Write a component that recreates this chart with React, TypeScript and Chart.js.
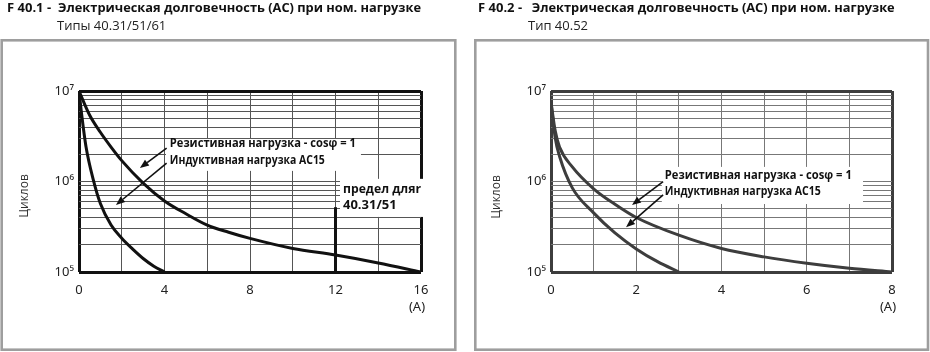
import React, { useEffect, useRef } from "react";
import { Chart, registerables } from "chart.js";

Chart.register(...registerables);

// ---------------- data ----------------
const Y_GRID = [1e5, 2e5, 3e5, 4e5, 5e5, 6e5, 7e5, 8e5, 9e5, 1e6, 2e6, 3e6, 4e6, 5e6, 6e6, 7e6, 8e6, 9e6, 1e7];
const Y_LABEL_VALUES = [1e5, 1e6, 1e7];
const Y_LABEL_TEXT = ["10⁵", "10⁶", "10⁷"];

const L_X_GRID = [0, 2, 4, 6, 8, 10, 12, 14, 16];
const L_X_LABELS = [0, 4, 8, 12, 16];
const R_X_GRID = [0, 1, 2, 3, 4, 5, 6, 7, 8];
const R_X_LABELS = [0, 2, 4, 6, 8];

// F 40.1 – types 40.31/51/61
const L_RES_X = [0, 0.5, 1, 1.5, 2, 3, 4, 5, 6, 7, 8, 10, 12, 14, 16];
const L_RES_Y = [1e7, 5.4e6, 3.5e6, 2.4e6, 1.7e6, 9.6e5, 6.1e5, 4.4e5, 3.3e5, 2.75e5, 2.35e5, 1.82e5, 1.54e5, 1.26e5, 1e5];
const L_IND_X = [0, 0.12, 0.33, 0.67, 1, 1.5, 2, 2.5, 3, 3.5, 4];
const L_IND_Y = [1e7, 5.6e6, 2.4e6, 1.04e6, 5.7e5, 3.3e5, 2.36e5, 1.8e5, 1.41e5, 1.16e5, 1e5];
const L_LIMIT_X = [12, 12];
const L_LIMIT_Y = [1e5, 5.2e5];

// F 40.2 – type 40.52
const R_RES_X = [0, 0.1, 0.2, 0.5, 1, 1.5, 2, 3, 4, 5, 6, 7, 8];
const R_RES_Y = [7.5e6, 3.6e6, 2.4e6, 1.45e6, 8.3e5, 5.6e5, 4e5, 2.55e5, 1.82e5, 1.47e5, 1.25e5, 1.1e5, 1e5];
const R_IND_X = [0, 0.1, 0.2, 0.5, 1, 1.5, 2, 2.5, 3];
const R_IND_Y = [7.5e6, 3e6, 1.9e6, 8.5e5, 4.5e5, 2.7e5, 1.8e5, 1.3e5, 1e5];

// ---------------- texts ----------------
const MAIN_TITLE = "Электрическая долговечность (AC) при ном. нагрузке";
const L_CODE = "F 40.1 -";
const R_CODE = "F 40.2 -";
const L_SUB = "Типы 40.31/51/61";
const R_SUB = "Тип 40.52";
const RES_LABEL = "Резистивная нагрузка - cosφ = 1";
const IND_LABEL = "Индуктивная нагрузка AC15";
const LIMIT_LABEL_1 = "предел дляr";
const LIMIT_LABEL_2 = "40.31/51";
const Y_TITLE = "Циклов";
const X_UNIT = "(A)";

// ---------------- layout ----------------
const W = 465;
const H = 352;
const FONT = "'Open Sans', 'Noto Sans', sans-serif";
const TICK_FONT = "'Noto Sans', 'Open Sans', sans-serif";

type Pt = [number, number];
type PanelCfg = {
  offset: number;
  area: { l: number; r: number; t: number; b: number };
  frame: [number, number, number, number];
  code: string; codeX: number; titleX: number; sub: string; subX: number;
  xMax: number; xGrid: number[]; xLabels: number[];
  lineColor: string; gridColor: string; borderColor: string;
  series: { x: number[]; y: number[]; straight?: boolean }[];
  boxes: { x0: number; x1: number; y0: number; y1: number }[];
  texts: { x: number; y: number; text: string; maxW: number }[];
  arrows: { from: Pt; to: Pt }[];
  yTitleX: number; yTitleY: number;
};

const LEFT: PanelCfg = {
  offset: 0,
  area: { l: 79, r: 421, t: 91, b: 272 },
  frame: [1.7, 40.3, 453.6, 309.4],
  code: L_CODE, codeX: 7, titleX: 58, sub: L_SUB, subX: 57,
  xMax: 16, xGrid: L_X_GRID, xLabels: L_X_LABELS,
  lineColor: "#111111", gridColor: "#555555", borderColor: "#111111",
  series: [
    { x: L_RES_X, y: L_RES_Y },
    { x: L_IND_X, y: L_IND_Y },
    { x: L_LIMIT_X, y: L_LIMIT_Y, straight: true },
  ],
  boxes: [
    { x0: 4.07, x1: 13.19, y0: 2.95e6, y1: 1.31e6 },
    { x0: 12.21, x1: 16.6, y0: 1.07e6, y1: 4.06e5 },
  ],
  texts: [
    { x: 4.25, y: 2.65e6, text: RES_LABEL, maxW: 186 },
    { x: 4.25, y: 1.7e6, text: IND_LABEL, maxW: 155 },
    { x: 12.35, y: 8.26e5, text: LIMIT_LABEL_1, maxW: 78 },
    { x: 12.35, y: 5.41e5, text: LIMIT_LABEL_2, maxW: 62 },
  ],
  arrows: [
    { from: [4.1, 2.34e6], to: [2.85, 1.41e6] },
    { from: [4.1, 1.6e6], to: [1.73, 5.5e5] },
  ],
  yTitleX: 25, yTitleY: 196,
};

const RIGHT: PanelCfg = {
  offset: 465,
  area: { l: 86, r: 427, t: 91, b: 272 },
  frame: [10.3, 40.3, 452.7, 309.4],
  code: R_CODE, codeX: 13, titleX: 66.7, sub: R_SUB, subX: 63,
  xMax: 8, xGrid: R_X_GRID, xLabels: R_X_LABELS,
  lineColor: "#3d3d3d", gridColor: "#777777", borderColor: "#3d3d3d",
  series: [
    { x: R_RES_X, y: R_RES_Y },
    { x: R_IND_X, y: R_IND_Y },
  ],
  boxes: [{ x0: 2.6, x1: 7.32, y0: 1.45e6, y1: 5.64e5 }],
  texts: [
    { x: 2.67, y: 1.18e6, text: RES_LABEL, maxW: 187 },
    { x: 2.67, y: 7.7e5, text: IND_LABEL, maxW: 156 },
  ],
  arrows: [
    { from: [2.63, 9.95e5], to: [1.9, 5.5e5] },
    { from: [2.63, 7.1e5], to: [1.76, 3.12e5] },
  ],
  yTitleX: 32, yTitleY: 197,
};

function drawArrow(ctx: CanvasRenderingContext2D, x0: number, y0: number, x1: number, y1: number) {
  const ang = Math.atan2(y1 - y0, x1 - x0);
  const L = 9;
  const hw = 3.6;
  const bx = x1 - L * Math.cos(ang);
  const by = y1 - L * Math.sin(ang);
  ctx.beginPath();
  ctx.moveTo(x0, y0);
  ctx.lineTo(bx, by);
  ctx.stroke();
  ctx.beginPath();
  ctx.moveTo(x1, y1);
  ctx.lineTo(bx + hw * Math.sin(ang), by - hw * Math.cos(ang));
  ctx.lineTo(bx - hw * Math.sin(ang), by + hw * Math.cos(ang));
  ctx.closePath();
  ctx.fill();
}

function makeOverlay(cfg: PanelCfg) {
  return {
    id: "overlay",
    beforeDraw(chart: any) {
      const ctx: CanvasRenderingContext2D = chart.ctx;
      ctx.save();
      ctx.fillStyle = "#ffffff";
      ctx.fillRect(0, 0, W, H);
      ctx.strokeStyle = "#9e9e9e";
      ctx.lineWidth = 2.6;
      const [fx, fy, fw, fh] = cfg.frame;
      ctx.strokeRect(fx, fy, fw, fh);
      ctx.fillStyle = "#111111";
      ctx.textBaseline = "alphabetic";
      ctx.textAlign = "left";
      ctx.font = `700 13px ${FONT}`;
      ctx.fillText(cfg.code, cfg.codeX, 12, 46);
      ctx.fillText(MAIN_TITLE, cfg.titleX, 12, 363);
      ctx.font = `400 13px ${FONT}`;
      ctx.fillStyle = "#222222";
      ctx.fillText(cfg.sub, cfg.subX, 29.5);
      ctx.restore();
    },
    beforeDatasetsDraw(chart: any) {
      const ctx: CanvasRenderingContext2D = chart.ctx;
      const xs = chart.scales.x;
      const ys = chart.scales.y;
      ctx.save();
      ctx.fillStyle = "#ffffff";
      for (const b of cfg.boxes) {
        const x0 = xs.getPixelForValue(b.x0);
        const x1 = xs.getPixelForValue(b.x1);
        const y0 = ys.getPixelForValue(b.y0);
        const y1 = ys.getPixelForValue(b.y1);
        ctx.fillRect(x0, y0, x1 - x0, y1 - y0);
      }
      ctx.restore();
    },
    afterDatasetsDraw(chart: any) {
      const ctx: CanvasRenderingContext2D = chart.ctx;
      const xs = chart.scales.x;
      const ys = chart.scales.y;
      const area = chart.chartArea;
      ctx.save();
      ctx.fillStyle = "#111111";
      ctx.textAlign = "left";
      ctx.textBaseline = "middle";
      ctx.font = `700 13px ${FONT}`;
      for (const t of cfg.texts) {
        ctx.fillText(t.text, xs.getPixelForValue(t.x), ys.getPixelForValue(t.y), t.maxW);
      }
      ctx.strokeStyle = "#111111";
      ctx.lineWidth = 1.6;
      for (const a of cfg.arrows) {
        drawArrow(
          ctx,
          xs.getPixelForValue(a.from[0]), ys.getPixelForValue(a.from[1]),
          xs.getPixelForValue(a.to[0]), ys.getPixelForValue(a.to[1])
        );
      }
      // axis titles
      ctx.fillStyle = "#333333";
      ctx.font = `400 12px ${FONT}`;
      ctx.textAlign = "center";
      ctx.save();
      ctx.translate(cfg.yTitleX, cfg.yTitleY);
      ctx.rotate(-Math.PI / 2);
      ctx.fillText(Y_TITLE, 0, 0);
      ctx.restore();
      ctx.font = `400 13px ${TICK_FONT}`;
      ctx.fillStyle = "#222222";
      ctx.fillText(X_UNIT, area.right - 4, 307);
      ctx.restore();
    },
  };
}

function buildConfig(cfg: PanelCfg): any {
  const { area } = cfg;
  const lastX = cfg.xGrid.length - 1;
  const lastY = Y_GRID.length - 1;
  return {
    type: "line",
    data: {
      datasets: cfg.series.map((s, i) => ({
        label: "s" + i,
        data: s.x.map((x, j) => ({ x, y: s.y[j] })),
        borderColor: cfg.lineColor,
        borderWidth: 3,
        pointRadius: 0,
        fill: false,
        tension: s.straight ? 0 : 0.4,
        cubicInterpolationMode: s.straight ? "default" : "monotone",
        borderCapStyle: "butt",
      })),
    },
    options: {
      animation: false,
      responsive: false,
      maintainAspectRatio: false,
      devicePixelRatio: 1,
      events: [],
      layout: { padding: { left: 0, top: area.t, right: W - area.r, bottom: 0 } },
      plugins: { legend: { display: false }, tooltip: { enabled: false }, title: { display: false } },
      scales: {
        x: {
          type: "linear",
          min: 0,
          max: cfg.xMax,
          afterBuildTicks: (s: any) => {
            s.ticks = cfg.xGrid.map((v) => ({ value: v }));
          },
          afterFit: (s: any) => {
            s.height = H - area.b;
          },
          grid: {
            drawTicks: false,
            color: (c: any) => (c.index === 0 || c.index === lastX ? cfg.borderColor : cfg.gridColor),
            lineWidth: (c: any) => (c.index === 0 || c.index === lastX ? 3 : 1),
          },
          border: { display: false },
          ticks: {
            autoSkip: false,
            maxRotation: 0,
            minRotation: 0,
            padding: 10,
            color: "#222222",
            font: { family: TICK_FONT, size: 13 },
            callback: (v: number) => (cfg.xLabels.indexOf(v) >= 0 ? String(v) : ""),
          },
        },
        y: {
          type: "logarithmic",
          min: 1e5,
          max: 1e7,
          afterBuildTicks: (s: any) => {
            s.ticks = Y_GRID.map((v) => ({ value: v }));
          },
          afterFit: (s: any) => {
            s.width = area.l;
          },
          grid: {
            drawTicks: false,
            color: (c: any) => (c.index === 0 || c.index === lastY ? cfg.borderColor : cfg.gridColor),
            lineWidth: (c: any) => (c.index === 0 || c.index === lastY ? 3 : 1),
          },
          border: { display: false },
          ticks: {
            autoSkip: false,
            padding: 5,
            color: "#222222",
            font: { family: TICK_FONT, size: 13 },
            callback: (v: number) => {
              const k = Y_LABEL_VALUES.indexOf(v);
              return k >= 0 ? Y_LABEL_TEXT[k] : "";
            },
          },
        },
      },
    },
    plugins: [makeOverlay(cfg)],
  };
}

function Panel({ cfg }: { cfg: PanelCfg }) {
  const ref = useRef<HTMLCanvasElement | null>(null);
  useEffect(() => {
    if (!ref.current) return;
    const chart = new Chart(ref.current, buildConfig(cfg));
    return () => chart.destroy();
  }, [cfg]);
  return (
    <canvas
      ref={ref}
      width={W}
      height={H}
      style={{ position: "absolute", left: cfg.offset, top: 0, width: W, height: H, display: "block" }}
    />
  );
}

export default function App() {
  return (
    <div style={{ position: "absolute", left: 0, top: 0, width: 930, height: 352, background: "#fff", overflow: "hidden" }}>
      <Panel cfg={LEFT} />
      <Panel cfg={RIGHT} />
    </div>
  );
}
